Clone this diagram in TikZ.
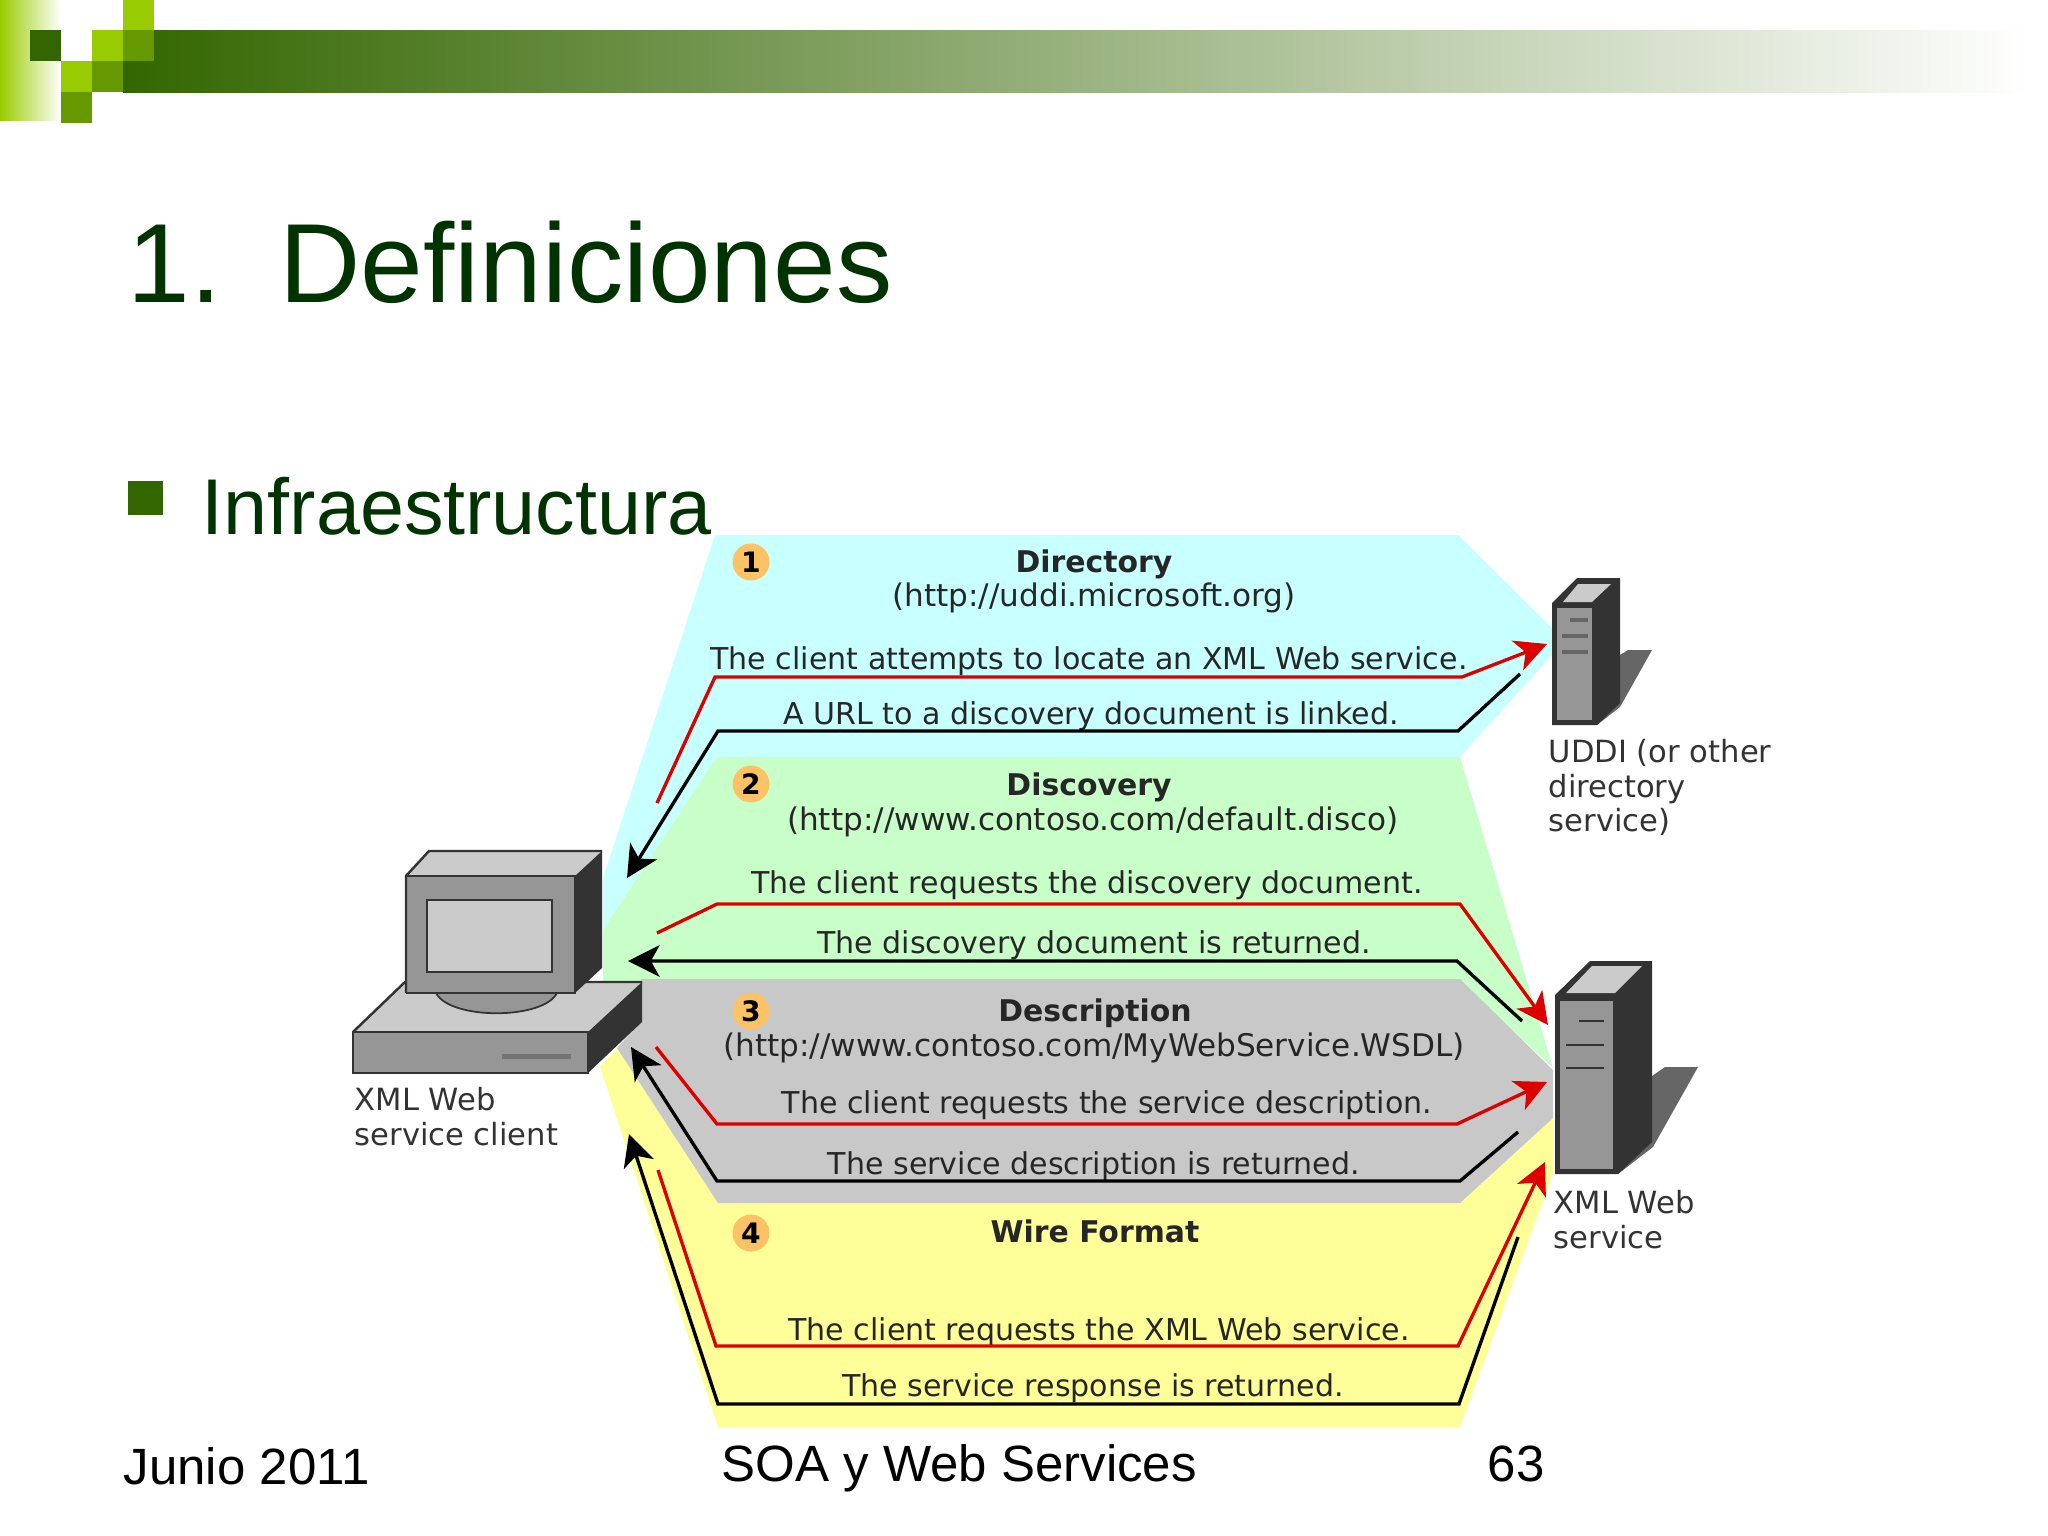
\documentclass[tikz,border=0pt]{standalone}
\usepackage{fontspec}
\setmainfont{Liberation Sans}
\newfontfamily\diagfont{DejaVu Sans}
\usepackage{xcolor}
\usetikzlibrary{arrows.meta}
\definecolor{slidegreen}{HTML}{003300}
\definecolor{darkleaf}{HTML}{336600}
\definecolor{oliveleaf}{HTML}{669900}
\definecolor{limeleaf}{HTML}{99CC00}
\definecolor{bandcyan}{HTML}{C8FFFF}
\definecolor{bandgreen}{HTML}{C8FFC8}
\definecolor{bandgray}{HTML}{C8C8C8}
\definecolor{bandyellow}{HTML}{FFFF99}
\definecolor{badgeorange}{HTML}{FBC365}
\definecolor{arrowred}{HTML}{DC0000}
\definecolor{boxdark}{HTML}{333333}
\definecolor{boxmid}{HTML}{969696}
\definecolor{boxlight}{HTML}{CBCBCB}
\tikzset{
  flowred/.style={draw=arrowred,line width=0.95pt,-{Stealth[length=9pt,width=9pt,inset=2.5pt]}},
  flowblack/.style={draw=black,line width=0.95pt,-{Stealth[length=9pt,width=9pt,inset=2.5pt]}},
  banner/.style={font=\diagfont\fontsize{8.55}{10}\selectfont,text=black!85,anchor=base,inner sep=0pt},
  bannerurl/.style={banner,font=\diagfont\fontsize{8.85}{10}\selectfont},
  bannerbold/.style={banner,font=\diagfont\bfseries\fontsize{8.5}{10}\selectfont},
  sidelabel/.style={font=\diagfont\fontsize{8.7}{9.8}\selectfont,text=black!80,anchor=north west,align=left,inner sep=0pt},
  badge/.style={circle,fill=badgeorange,minimum size=37*0.2845pt,inner sep=0pt,font=\diagfont\bfseries\fontsize{8}{9}\selectfont},
  footer/.style={font=\fontsize{14.5}{17}\selectfont,anchor=base west,inner sep=0pt}
}
\begin{document}
\begin{tikzpicture}[x=0.01cm,y=-0.01cm]
\useasboundingbox (0,0) rectangle (2048,1536);
% Cabecera
\shade[left color=limeleaf,right color=white] (0,0) rectangle (61,120);
\shade[left color=darkleaf,right color=white] (123,30) rectangle (2030,92);
\fill[white] (123,30) rectangle (154,61);
\foreach \cx/\cy/\col in {30/30/darkleaf,92/30/limeleaf,123/0/limeleaf,123/30/oliveleaf,61/61/limeleaf,92/61/oliveleaf,61/92/oliveleaf}{
  \fill[\col] (\cx,\cy) rectangle ++(31,31);
}
% Titulos
\node[anchor=base west,inner sep=0pt,text=slidegreen,font=\fontsize{32}{38}\selectfont] (title) at (127,302) {1.\hspace{16.5pt}Definiciones};
\fill[darkleaf] (128,481) rectangle (163,515);
\node[anchor=base west,inner sep=0pt,text=slidegreen,font=\fontsize{22.5}{27}\selectfont] (topic) at (201,534) {Infraestructura};
% Bandas
\fill[bandcyan] (715,535) -- (1458,535) -- (1552,628) -- (1552,655) -- (1460,757) -- (717,757) -- (603,930) -- (603,878) -- cycle;
\fill[bandgreen] (717,757) -- (1460,757) -- (1553,1068) -- (1460,981) -- (603,981) -- (603,930) -- cycle;
\fill[bandyellow] (600,1067) -- (617,1048) -- (718,1203) -- (1460,1203) -- (1553,1118) -- (1553,1174) -- (1460,1427) -- (718,1427) -- cycle;
\fill[bandgray] (641,979) -- (1460,979) -- (1553,1070) -- (1553,1118) -- (1460,1203) -- (718,1203) -- (617,1048) -- (641,1022) -- cycle;
% Textos de las bandas
\node[badge] (one) at (751,562) {1};
\node[bannerbold] (dirhead) at (1094,572) {Directory};
\node[bannerurl] (dirurl) at (1094,606) {(http://uddi.microsoft.org)};
\node[banner] (dirreq) at (1089,669) {The client attempts to locate an XML Web service.};
\node[banner] (dirres) at (1091,724) {A URL to a discovery document is linked.};
\node[badge] (two) at (751,784) {2};
\node[bannerbold] (dischead) at (1089,795) {Discovery};
\node[bannerurl] (discurl) at (1093,830) {(http://www.contoso.com/default.disco)};
\node[banner] (discreq) at (1087,893) {The client requests the discovery document.};
\node[banner] (discres) at (1094,953) {The discovery document is returned.};
\node[badge] (three) at (751,1011) {3};
\node[bannerbold] (deschead) at (1095,1021) {Description};
\node[bannerurl] (descurl) at (1094,1056) {(http://www.contoso.com/MyWebService.WSDL)};
\node[banner] (descreq) at (1107,1113) {The client requests the service description.};
\node[banner] (descres) at (1094,1174) {The service description is returned.};
\node[badge] (four) at (751,1233) {4};
\node[bannerbold] (wirehead) at (1095,1242) {Wire Format};
\node[banner] (wirereq) at (1099,1340) {The client requests the XML Web service.};
\node[banner] (wireres) at (1093,1396) {The service response is returned.};
% Cliente
\fill[boxlight] (353,1032) -- (405,982) -- (642,982) -- (588,1032) -- cycle;
\fill[boxmid] (353,1032) rectangle (588,1073);
\fill[boxdark] (588,1032) -- (642,982) -- (642,1022) -- (588,1073) -- cycle;
\draw[boxdark,line width=0.7pt] (353,1032) -- (405,982) -- (642,982);
\draw[boxdark,line width=0.7pt] (353,1032) rectangle (588,1073);
\fill[black!55] (502,1054) rectangle (571,1059);
\draw[boxdark,fill=boxmid,line width=0.5pt] (436,993) .. controls (450,1020) and (543,1020) .. (557,993);
\fill[boxlight] (406,876) -- (429,851) -- (602,851) -- (575,876) -- cycle;
\fill[boxmid] (406,876) rectangle (575,993);
\fill[boxdark] (575,876) -- (602,851) -- (602,968) -- (575,993) -- cycle;
\draw[boxdark,line width=0.7pt] (406,993) -- (406,876) -- (429,851) -- (602,851);
\draw[boxdark,line width=0.7pt] (406,876) -- (575,876) -- (575,993) -- (406,993);
\draw[boxdark,fill=boxlight,line width=0.7pt] (427,900) rectangle (552,972);
\node[sidelabel] (clientlabel) at (354,1087) {XML Web\\service client};
% Servidor UDDI
\fill[black!60] (1620,655) -- (1628,650) -- (1652,650) -- (1620,707) -- (1597,725) -- cycle;
\fill[boxdark] (1552,603) -- (1577,578) -- (1620,578) -- (1620,703) -- (1597,725) -- (1552,725) -- cycle;
\fill[boxlight] (1563,602) -- (1578,584) -- (1611,584) -- (1592,602) -- cycle;
\fill[boxmid] (1557,608) rectangle (1592,720);
\foreach \ax/\ay in {1570/620,1562/636,1562/652}{
  \fill[black!60] (\ax,\ay-2) rectangle (1588,\ay+2);
}
\node[sidelabel] (uddilabel) at (1548,739) {UDDI (or other\\directory\\service)};
% Servidor web
\fill[black!60] (1652,1076) -- (1665,1067) -- (1698,1067) -- (1653,1147) -- (1618,1174) -- cycle;
\fill[boxdark] (1555,995) -- (1590,961) -- (1652,961) -- (1652,1142) -- (1618,1174) -- (1555,1174) -- cycle;
\fill[boxlight] (1566,993) -- (1592,966) -- (1642,966) -- (1615,993) -- cycle;
\fill[boxmid] (1560,1001) rectangle (1613,1169);
\foreach \ax/\ay in {1579/1021,1566/1045,1566/1068}{
  \draw[boxdark,line width=0.5pt] (\ax,\ay) -- (1604,\ay);
}
\node[sidelabel] (weblabel) at (1553,1190) {XML Web\\service};
% Flechas
\coordinate (ra1) at (657,803); \coordinate (ra2) at (715,677); \coordinate (ra3) at (1462,677); \coordinate (ra4) at (1547,644);
\coordinate (ka1) at (1520,674); \coordinate (ka2) at (1458,731); \coordinate (ka3) at (718,731); \coordinate (ka4) at (627,878);
\coordinate (rb1) at (657,933); \coordinate (rb2) at (717,904); \coordinate (rb3) at (1460,904); \coordinate (rb4) at (1548,1025);
\coordinate (kb1) at (1522,1021); \coordinate (kb2) at (1457,961); \coordinate (kb3) at (628,961);
\coordinate (rc1) at (656,1047); \coordinate (rc2) at (717,1124); \coordinate (rc3) at (1457,1124); \coordinate (rc4) at (1547,1082);
\coordinate (kc1) at (1518,1132); \coordinate (kc2) at (1460,1181); \coordinate (kc3) at (717,1181); \coordinate (kc4) at (631,1047);
\coordinate (rd1) at (658,1170); \coordinate (rd2) at (716,1346); \coordinate (rd3) at (1458,1346); \coordinate (rd4) at (1545,1162);
\coordinate (kd1) at (1518,1237); \coordinate (kd2) at (1459,1404); \coordinate (kd3) at (718,1404); \coordinate (kd4) at (629,1134);
\foreach \s in {a,c,d}{
  \draw[flowred] (r\s1) -- (r\s2) -- (r\s3) -- (r\s4);
  \draw[flowblack] (k\s1) -- (k\s2) -- (k\s3) -- (k\s4);
}
\draw[flowred] (rb1) -- (rb2) -- (rb3) -- (rb4);
\draw[flowblack] (kb1) -- (kb2) -- (kb3);
% Pie
\node[footer] (date) at (123,1484) {Junio 2011};
\node[footer] (course) at (721,1481) {SOA y Web Services};
\node[footer] (page) at (1487,1481) {63};
\end{tikzpicture}
\end{document}
